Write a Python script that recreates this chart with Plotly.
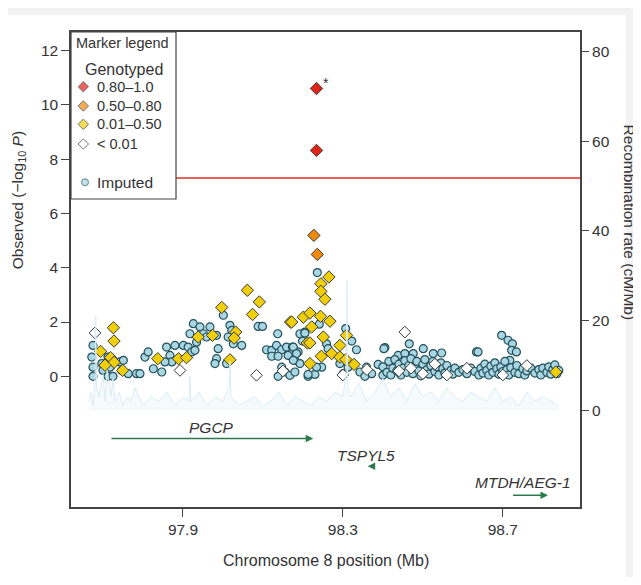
import plotly.graph_objects as go

# ---------------- data ----------------
red_pos = [98.234, 98.234]
red_logp = [10.60, 8.32]

orange_pos = [98.2275, 98.236]
orange_logp = [5.19, 4.49]

yellow_pos = [97.726, 97.7275, 97.694, 97.719, 97.728, 97.705, 97.749, 97.837, 97.889, 97.909, 97.938,
              97.974, 97.997, 98.032, 98.028, 98.0175, 98.061, 98.091, 98.074, 98.169, 98.201, 98.211,
              98.265, 98.245, 98.245, 98.255, 98.2175, 98.244, 98.2675, 98.222, 98.251, 98.2175, 98.172,
              98.2925, 98.272, 98.246, 98.2925, 98.309, 98.3075, 98.328, 98.2175, 98.8325]
yellow_logp = [1.79, 1.30, 0.92, 0.69, 0.52, 0.41, 0.22, 0.65, 0.65, 0.69, 1.45,
               1.51, 2.54, 1.63, 1.41, 0.61, 3.17, 2.74, 2.28, 2.00, 2.18, 1.23,
               3.66, 3.41, 3.13, 2.84, 2.33, 2.21, 2.03, 1.82, 1.45, 1.23, 2.00,
               1.14, 0.84, 0.74, 0.71, 1.51, 0.62, 0.44, 0.47, 0.16]

low_pos = [97.68, 97.8925, 98.084, 98.455, 98.30, 98.44, 98.50, 98.56, 98.61, 98.70, 98.76, 98.47, 98.53, 98.36, 98.15]
low_logp = [1.60, 0.22, 0.04, 1.63, 0.05, 0.20, 0.10, 0.05, 0.30, 0.05, 0.40, 0.30, 0.45, 0.25, 0.20]

imp_pos = [97.675, 97.672, 97.675, 97.675, 97.697, 97.70, 97.7125, 97.7175, 97.7125, 97.725, 97.7425, 97.747,
           97.763, 97.784, 97.7925, 97.751,
           97.805, 97.813, 97.826, 97.847, 97.859, 97.8675, 97.872, 97.855, 97.88, 97.901, 97.913, 97.922,
           97.93, 97.934, 97.926, 97.9175, 97.9425, 97.951, 97.959, 97.9675, 97.984, 97.988, 97.984, 97.98,
           98.001, 98.0175, 98.022, 98.013, 98.026, 98.047, 98.009,
           98.088, 98.099, 98.137, 98.109, 98.122, 98.134, 98.147, 98.159, 98.174, 98.122, 98.138, 98.163,
           98.188, 98.18, 98.1925, 98.147, 98.155, 98.1675, 98.138, 98.1925, 98.205, 98.213,
           98.236, 98.241, 98.205, 98.199, 98.307, 98.322, 98.334, 98.259, 98.263, 98.247, 98.23, 98.213,
           98.234, 98.2925, 98.301, 98.313, 98.3425, 98.359, 98.372, 98.388, 98.405, 98.40, 98.355,
           98.176, 98.184, 98.176, 98.18,
           98.4025, 98.466, 98.501, 98.438, 98.455, 98.476, 98.526, 98.547, 98.634,
           98.40, 98.41, 98.415, 98.42, 98.425, 98.43, 98.435, 98.44, 98.445, 98.45, 98.455, 98.46, 98.465,
           98.47, 98.475, 98.48, 98.485, 98.49, 98.495, 98.50, 98.505, 98.51, 98.515, 98.52, 98.525, 98.53,
           98.535, 98.54, 98.545, 98.55, 98.555, 98.56, 98.57, 98.575, 98.58, 98.59, 98.60, 98.61, 98.62,
           98.63, 98.64,
           98.697, 98.713, 98.724, 98.722, 98.734, 98.638, 98.7175,
           98.645, 98.65, 98.655, 98.66, 98.665, 98.67, 98.675, 98.68, 98.685, 98.69, 98.695, 98.70, 98.705,
           98.71, 98.715, 98.72, 98.73, 98.735, 98.74, 98.75, 98.755, 98.76, 98.77, 98.78, 98.79, 98.795,
           98.80, 98.81, 98.815, 98.82, 98.825, 98.83, 98.835, 98.84]
imp_logp = [1.14, 0.71, 0.34, 0.0, 0.47, 0.22, 0.71, 0.34, 0.0, 0.0, 0.53, 0.22,
            0.10, 0.10, 0.10, 0.59,
            0.71, 0.90, 0.28, 0.16, 1.08, 0.77, 0.53, 0.53, 1.14, 1.14, 1.08, 0.90,
            0.96, 1.26, 1.94, 1.57, 1.82, 1.57, 1.45, 1.82, 1.51, 1.02, 0.65, 0.47,
            2.25, 1.88, 1.69, 1.45, 1.20, 1.14, 0.47,
            1.84, 1.84, 1.57, 0.98, 0.96, 1.14, 0.98, 1.08, 1.08, 0.74, 0.74, 0.77,
            0.90, 0.59, 0.47, 0.34, 0.16, 0.04, 0.0, 1.57, 1.63, 0.0,
            3.82, 1.92, 1.59, 1.30, 1.76, 1.30, 0.98, 1.20, 1.02, 0.34, 0.07, 0.07,
            0.34, 0.47, 0.10, 0.34, 0.16, 0.34, 0.10, 0.44, 1.06, 0.04, 0.0,
            1.08, 0.84, 0.59, 0.16,
            1.02, 1.20, 1.02, 0.77, 0.84, 0.84, 0.84, 0.86, 0.90,
            0.35, 0.15, 0.55, 0.05, 0.30, 0.62, 0.20, 0.45, 0.05, 0.30, 0.58, 0.15, 0.40,
            0.65, 0.10, 0.35, 0.55, 0.20, 0.02, 0.45, 0.62, 0.25, 0.08, 0.40, 0.55, 0.18,
            0.35, 0.05, 0.50, 0.28, 0.12, 0.40, 0.22, 0.08, 0.30, 0.15, 0.25, 0.10, 0.30,
            0.18, 0.05,
            1.51, 1.33, 1.20, 0.96, 0.90, 0.90, 0.59,
            0.30, 0.12, 0.45, 0.22, 0.05, 0.38, 0.15, 0.50, 0.28, 0.08, 0.35, 0.18, 0.55,
            0.25, 0.05, 0.32, 0.15, 0.40, 0.10, 0.28, 0.05, 0.20, 0.30, 0.12, 0.25, 0.05,
            0.30, 0.15, 0.35, 0.08, 0.25, 0.42, 0.10, 0.22]

recomb_pos = [97.665, 97.670, 97.675, 97.680, 97.682, 97.684, 97.690, 97.700, 97.705, 97.710, 97.720, 97.725,
              97.730, 97.740, 97.750, 97.760, 97.770, 97.780, 97.800, 97.820, 97.840, 97.860, 97.880, 97.900,
              97.915, 97.917, 97.920, 97.940, 97.960, 97.980, 98.000, 98.015, 98.0175, 98.020, 98.040, 98.060,
              98.080, 98.100, 98.120, 98.140, 98.160, 98.180, 98.200, 98.220, 98.240, 98.260, 98.280, 98.300,
              98.308, 98.310, 98.312, 98.320, 98.340, 98.360, 98.380, 98.400, 98.420, 98.440, 98.460, 98.480,
              98.500, 98.520, 98.540, 98.560, 98.580, 98.600, 98.620, 98.640, 98.660, 98.680, 98.700, 98.720,
              98.740, 98.760, 98.780, 98.800, 98.820, 98.840]
recomb_rate = [2, 4, 1, 6, 21, 5, 3, 8, 2, 9, 3, 7,
               2, 4, 1, 3, 2, 5, 1, 3, 2, 4, 1, 3,
               2, 7.5, 2, 4, 1, 3, 2, 5, 11, 3, 1, 2,
               3, 1, 2, 4, 1, 3, 2, 1, 3, 2, 4, 3,
               8, 29, 5, 3, 6, 2, 4, 7, 3, 5, 2, 6,
               3, 4, 2, 5, 3, 2, 4, 3, 2, 5, 2, 3,
               1, 4, 2, 3, 2, 1]

genes = ["PGCP", "TSPYL5", "MTDH/AEG-1"]
gene_start = [97.7175, 98.362, 98.7218]
gene_end = [98.2258, 98.372, 98.813]
gene_strand = ["+", "-", "+"]

sig_threshold = 7.3

x_ticks = [97.9, 98.3, 98.7]
y_ticks = [0, 2, 4, 6, 8, 10, 12]
y2_ticks = [0, 20, 40, 60, 80]

legend_labels = ["0.80\u20131.0", "0.50\u20130.80", "0.01\u20130.50", "< 0.01"]

# ---------------- style ----------------
FONT = "Liberation Sans, Arial, sans-serif"
TXT = "#333333"
GREEN = "#2b7a4b"
RED = "#e2231a"
ORANGE = "#f08a0c"
YELLOW = "#f0cf0a"
WHITE = "#ffffff"
IMP_FILL = "#a9d6e2"
IMP_LINE = "#22505a"
OUT = "#3a3a3a"

fig = go.Figure()

fig.add_trace(go.Scatter(x=recomb_pos, y=recomb_rate, yaxis="y2", mode="lines",
                         line=dict(color="#dcedf5", width=1), fill="tozeroy",
                         fillcolor="rgba(210,233,244,0.22)", hoverinfo="skip"))

fig.add_trace(go.Scatter(x=imp_pos, y=imp_logp, mode="markers",
                         marker=dict(symbol="circle", size=8, color=IMP_FILL,
                                     line=dict(color=IMP_LINE, width=1.2))))
fig.add_trace(go.Scatter(x=low_pos, y=low_logp, mode="markers",
                         marker=dict(symbol="diamond", size=9, color=WHITE,
                                     line=dict(color=OUT, width=1))))
fig.add_trace(go.Scatter(x=yellow_pos, y=yellow_logp, mode="markers",
                         marker=dict(symbol="diamond", size=9.5, color=YELLOW,
                                     line=dict(color=OUT, width=1))))
fig.add_trace(go.Scatter(x=orange_pos, y=orange_logp, mode="markers",
                         marker=dict(symbol="diamond", size=9.5, color=ORANGE,
                                     line=dict(color=OUT, width=1))))
fig.add_trace(go.Scatter(x=red_pos, y=red_logp, mode="markers",
                         marker=dict(symbol="diamond", size=9.5, color=RED,
                                     line=dict(color=OUT, width=1))))

# legend markers on an overlay axis in plot-fraction units
leg_x = [0.0242] * 4 + [0.0275]
leg_y = [0.8848, 0.8442, 0.8057, 0.7642, 0.6836]
fig.add_trace(go.Scatter(x=leg_x, y=leg_y, xaxis="x3", yaxis="y3", mode="markers",
                         marker=dict(symbol=["diamond"] * 4 + ["circle"], size=[8, 8, 8, 8, 7],
                                     color=[RED, ORANGE, YELLOW, WHITE, IMP_FILL],
                                     line=dict(color=[OUT, OUT, OUT, OUT, IMP_LINE], width=1)),
                         hoverinfo="skip"))

shapes = [
    dict(type="rect", xref="paper", yref="paper", x0=-0.124, x1=1.09, y0=-0.2, y1=1.036,
         fillcolor="white", line=dict(width=0), layer="below"),
    dict(type="line", xref="paper", yref="y", x0=0.2063, x1=1, y0=sig_threshold, y1=sig_threshold,
         line=dict(color="#e8625a", width=2), layer="below"),
    dict(type="rect", xref="paper", yref="paper", x0=0, x1=0.2063, y0=0.6484, y1=1,
         fillcolor="white", line=dict(color="#444444", width=1.2), layer="below"),
]


def pa(text, x, y, size=13, xanchor="center", **kw):
    return dict(text=text, xref="paper", yref="paper", x=x, y=y, xanchor=xanchor,
                yanchor="middle", showarrow=False, font=dict(size=size, color=TXT), **kw)


annotations = [
    pa("Observed (\u2212log<sub>10</sub> <i>P</i>)", -0.104, 0.646, 15.5, textangle=-90),
    pa("Recombination rate (cM/Mb)", 1.097, 0.598, 15.5, textangle=90),
    pa("Chromosome 8 position (Mb)", 0.501, -0.1116, 16),
    dict(text="*", x=red_pos[0] + 0.024, y=red_logp[0] + 0.2, showarrow=False,
         font=dict(size=14, color=TXT)),
    pa("Marker legend", 0.102, 0.976, 14.5),
    pa("Genotyped", 0.105, 0.9215, 16),
]
for lab, yy in zip(legend_labels, leg_y[:4]):
    annotations.append(pa(lab, 0.047, yy, 14.5, xanchor="left"))
annotations.append(pa("Imputed", 0.047, leg_y[4], 15.5, xanchor="left"))

# genes
gene_row_y = [-2.29, -3.31, -4.38]
gene_text_y = [-1.87, -2.91, -3.89]
gene_text_x = [97.972, 98.359, 98.751]
for name, s, e, st, ry, ty, tx in zip(genes, gene_start, gene_end, gene_strand,
                                      gene_row_y, gene_text_y, gene_text_x):
    head, tail = (e, s) if st == "+" else (s, e)
    annotations.append(dict(x=head, y=ry, ax=tail, ay=ry, xref="x", yref="y", axref="x", ayref="y",
                            text="", showarrow=True, arrowhead=2, arrowsize=1, arrowwidth=1.5,
                            arrowcolor=GREEN))
    annotations.append(dict(text="<i>%s</i>" % name, x=tx, y=ty, showarrow=False,
                            xanchor="center", yanchor="middle",
                            font=dict(size=15.5, color=TXT)))

fig.update_layout(
    width=633, height=569,
    margin=dict(l=63, r=61, t=24, b=70),
    paper_bgcolor="#f2f2f2", plot_bgcolor="white",
    showlegend=False,
    font=dict(family=FONT, color=TXT, size=15),
    xaxis=dict(range=[97.62, 98.893], tickvals=x_ticks, ticktext=[str(v) for v in x_ticks],
               ticks="outside", ticklen=8, tickcolor="#444", showline=True, linecolor="#444",
               linewidth=1.5, mirror=True, showgrid=False, zeroline=False,
               tickfont=dict(size=15.5, color=TXT)),
    yaxis=dict(range=[-4.81, 12.68], tickvals=y_ticks, ticks="outside", ticklen=8, tickcolor="#444",
               showline=True, linecolor="#444", linewidth=1.5, mirror=True, showgrid=False,
               zeroline=False, tickfont=dict(size=15.5, color=TXT)),
    yaxis2=dict(range=[-21.6, 84.4], tickvals=y2_ticks, overlaying="y", side="right",
                ticks="outside", ticklen=8, tickcolor="#444", showline=False, showgrid=False,
                zeroline=False, tickfont=dict(size=15.5, color=TXT)),
    xaxis3=dict(range=[0, 1], overlaying="x", visible=False, anchor="y3"),
    yaxis3=dict(range=[0, 1], overlaying="y", visible=False, anchor="x3"),
    shapes=shapes,
    annotations=annotations,
)

fig.write_html("out.html")
